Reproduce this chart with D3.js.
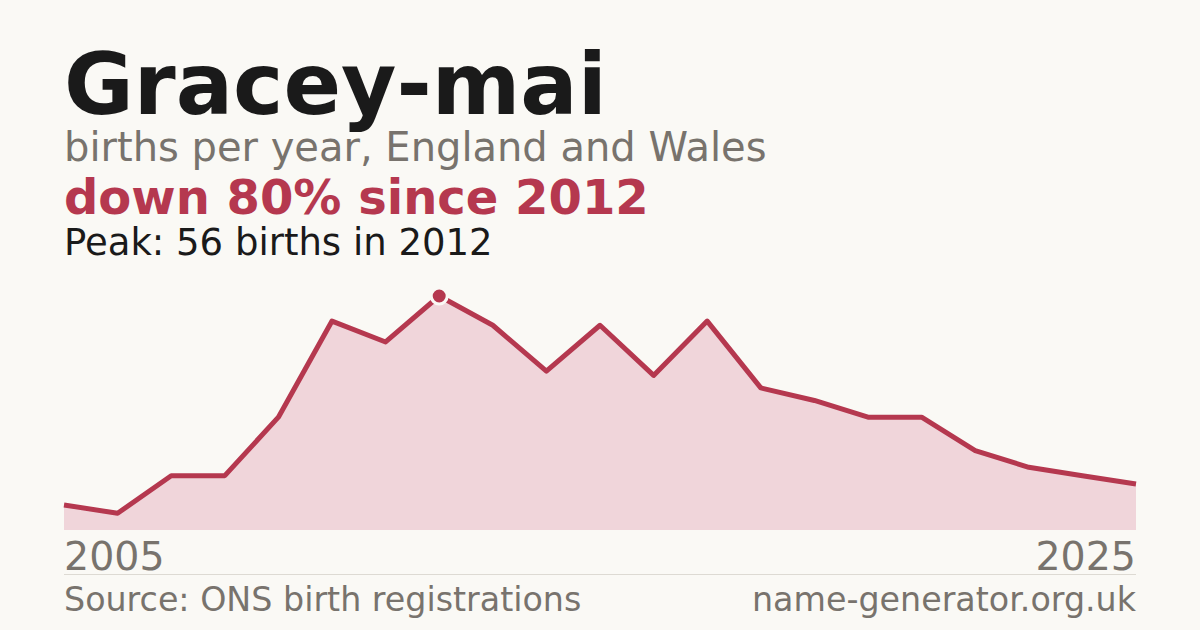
<!DOCTYPE html>
<html>
<head>
<meta charset="utf-8">
<script src="https://cdn.jsdelivr.net/npm/d3@7"></script>
<style>
  html, body { margin: 0; padding: 0; background: #faf9f5; }
  svg { display: block; font-family: "DejaVu Sans", sans-serif; }
</style>
</head>
<body>
<div id="chart"></div>
<script>
// Data
var years = [2005, 2006, 2007, 2008, 2009, 2010, 2011, 2012, 2013, 2014, 2015,
             2016, 2017, 2018, 2019, 2020, 2021, 2022, 2023, 2024, 2025];
var births = [6, 4, 13, 13, 27, 50, 45, 56, 49, 38, 49,
              37, 50, 34, 31, 27, 27, 19, 15, 13, 11];
var tickYears = [2005, 2025];

var width = 1200, height = 630;
var plot = { left: 64, right: 1136, top: 296, bottom: 530 };
var red = "#b5384f";

var svg = d3.select("#chart").append("svg")
    .attr("width", width)
    .attr("height", height);

svg.append("rect")
    .attr("width", width)
    .attr("height", height)
    .attr("fill", "#faf9f5");

var data = years.map(function(y, i) { return { year: y, value: births[i] }; });

// Scales
var x = d3.scaleLinear().domain(d3.extent(years)).range([plot.left, plot.right]);
var y = d3.scaleLinear().domain([0, d3.max(births)]).range([plot.bottom, plot.top]);

// Titles
svg.append("text")
    .attr("x", 64).attr("y", 114)
    .attr("font-size", 85).attr("font-weight", "bold")
    .attr("fill", "#1a1a1a")
    .text("Gracey-mai");

svg.append("text")
    .attr("x", 64).attr("y", 161)
    .attr("font-size", 40)
    .attr("fill", "#78736d")
    .text("births per year, England and Wales");

svg.append("text")
    .attr("x", 64).attr("y", 214)
    .attr("font-size", 48).attr("font-weight", "bold")
    .attr("fill", red)
    .text("down 80% since 2012");

svg.append("text")
    .attr("x", 64).attr("y", 255)
    .attr("font-size", 37)
    .attr("fill", "#1a1a1a")
    .text("Peak: 56 births in 2012");

// Area + line
var area = d3.area()
    .x(function(d) { return x(d.year); })
    .y0(plot.bottom)
    .y1(function(d) { return y(d.value); });

var line = d3.line()
    .x(function(d) { return x(d.year); })
    .y(function(d) { return y(d.value); });

svg.append("path")
    .datum(data)
    .attr("d", area)
    .attr("fill", "#f0d5da");

svg.append("path")
    .datum(data)
    .attr("d", line)
    .attr("fill", "none")
    .attr("stroke", red)
    .attr("stroke-width", 5)
    .attr("stroke-linejoin", "round");

// Peak marker
var peak = data.reduce(function(a, b) { return b.value > a.value ? b : a; });
svg.append("circle")
    .attr("cx", x(peak.year))
    .attr("cy", y(peak.value))
    .attr("r", 8)
    .attr("fill", red)
    .attr("stroke", "#faf9f5")
    .attr("stroke-width", 3);

// Year labels
svg.selectAll(".tick-year")
    .data(tickYears)
    .enter().append("text")
    .attr("class", "tick-year")
    .attr("x", function(d) { return x(d); })
    .attr("y", 570)
    .attr("text-anchor", function(d, i) { return i === 0 ? "start" : "end"; })
    .attr("font-size", 39.5)
    .attr("fill", "#78736d")
    .text(function(d) { return d; });

// Separator
svg.append("line")
    .attr("x1", plot.left).attr("x2", plot.right)
    .attr("y1", 574.5).attr("y2", 574.5)
    .attr("stroke", "#dddad3")
    .attr("stroke-width", 1);

// Footer
svg.append("text")
    .attr("x", 64).attr("y", 611)
    .attr("font-size", 33.3)
    .attr("fill", "#78736d")
    .text("Source: ONS birth registrations");

svg.append("text")
    .attr("x", 1136).attr("y", 611)
    .attr("text-anchor", "end")
    .attr("font-size", 33.3)
    .attr("fill", "#78736d")
    .text("name-generator.org.uk");
</script>
</body>
</html>
